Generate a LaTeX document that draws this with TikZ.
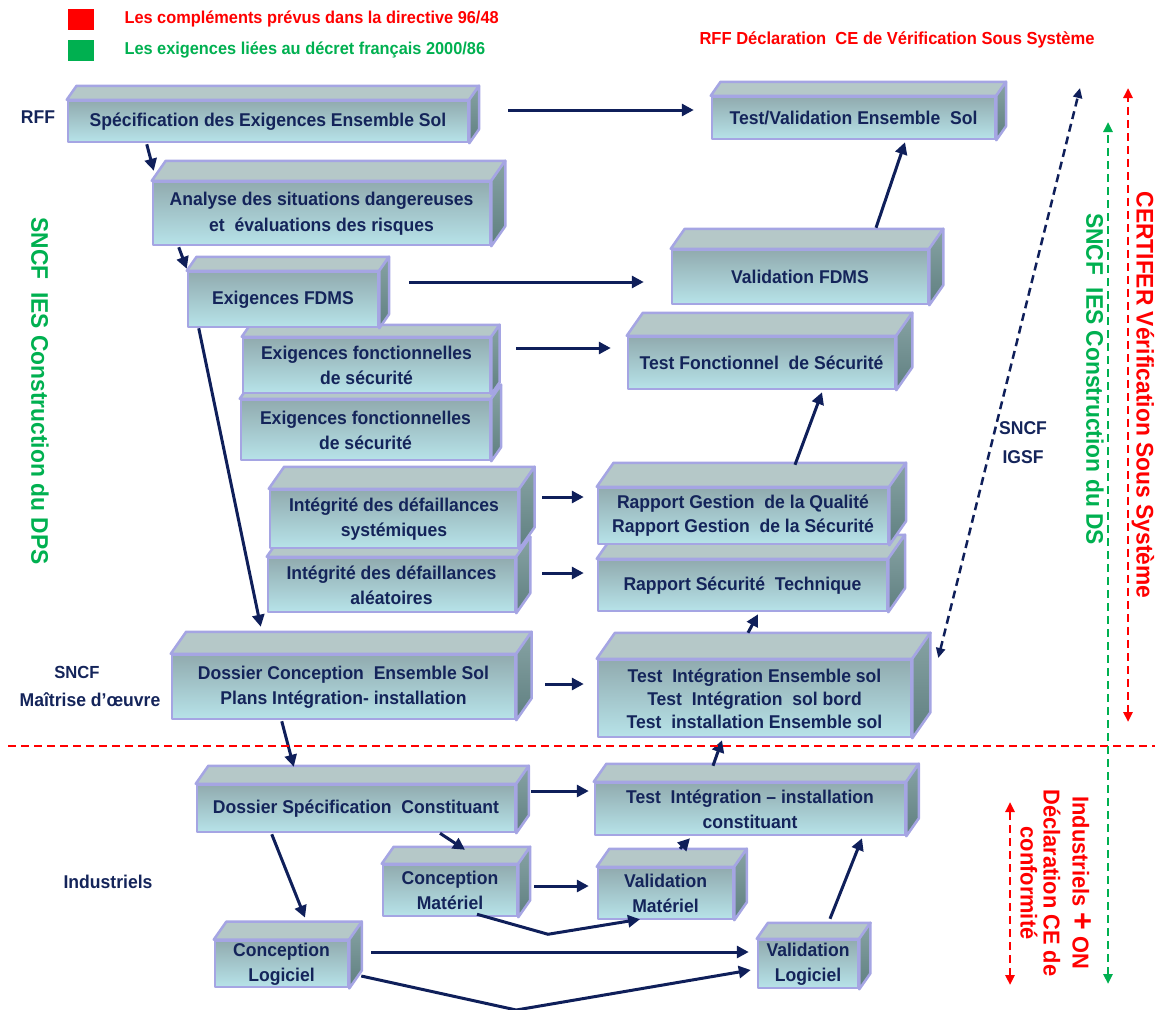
\documentclass[tikz,border=0pt]{standalone}
\usepackage{fontspec}
\setmainfont{Liberation Sans}[FakeStretch=0.95]
\usetikzlibrary{arrows.meta}
\definecolor{marine}{HTML}{14245A}
\definecolor{bleufleche}{HTML}{0F1F5A}
\definecolor{rouge}{HTML}{FF0000}
\definecolor{vert}{HTML}{00B050}
\definecolor{bord}{HTML}{A5A5E3}
\definecolor{facehaut}{HTML}{91ABAF}
\definecolor{facebas}{HTML}{B7E3E9}
\definecolor{dessusfond}{HTML}{B5C8C8}
\definecolor{cotehaut}{HTML}{87A3A4}
\definecolor{cotebas}{HTML}{5F7F80}

\tikzset{
  bloc/.style={draw=bord, line width=2.5pt, line join=round, top color=facehaut, bottom color=facebas, align=center, text=marine, inner sep=2pt},
  dessus/.style={draw=bord, line width=2.5pt, line join=round, fill=dessusfond},
  cote/.style={draw=bord, line width=2.5pt, line join=round, top color=cotehaut, bottom color=cotebas},
  fleche/.style={draw=bleufleche, line width=3pt, -{Triangle[length=12pt,width=12pt]}},
  pointille/.style={line width=2.5pt, dash pattern=on 8pt off 5pt, {Triangle[length=10pt,width=9pt]}-{Triangle[length=10pt,width=9pt]}},
  etiquette/.style={text=marine, align=center},
  vertical/.style={rotate=-90, align=center, font=\bfseries\fontsize{24}{29}\selectfont}
}

% boite en relief : [profondeur]{nom}{x}{y}{largeur}{hauteur}{texte}
\newcommand{\boite}[7][18]{%
  \node[bloc, minimum width=#5pt, minimum height=#6pt] (#2) at (#3,#4) {#7};
  \filldraw[dessus] (#2.north west) -- ++({0.7*#1pt},{#1pt}) -- ([shift={({0.7*#1pt},{#1pt})}]#2.north east) -- (#2.north east) -- cycle;
  \filldraw[cote] (#2.north east) -- ++({0.7*#1pt},{#1pt}) -- ([shift={({0.7*#1pt},{#1pt})}]#2.south east) -- (#2.south east) -- cycle;
}

\begin{document}
\begin{tikzpicture}[x=1pt, y=-1pt, font=\bfseries\fontsize{18.5}{25}\selectfont]
  \useasboundingbox (0,0) rectangle (1155,1009);

  % Légende
  \fill[rouge] (68,9) rectangle (94,30);
  \fill[vert] (68,40) rectangle (94,61);
  \node[anchor=west, text=rouge, font=\bfseries\fontsize{17.2}{20}\selectfont] (legrouge) at (121,19) {Les compléments prévus dans la directive 96/48};
  \node[anchor=west, text=vert, font=\bfseries\fontsize{17.2}{20}\selectfont] (legvert) at (121,50) {Les exigences liées au décret français 2000/86};
  \node[anchor=west, text=rouge, font=\bfseries\fontsize{17.4}{20}\selectfont] (declaration) at (696,40) {RFF Déclaration\ \ CE de Vérification Sous Système};

  % Acteurs
  \node[etiquette] (rff) at (38,117) {RFF};
  \node[etiquette, font=\bfseries\fontsize{17.5}{20}\selectfont] (sncf) at (77,672) {SNCF};
  \node[etiquette] (moe) at (90,700) {Maîtrise d’œuvre};
  \node[etiquette] (industriels) at (108,882) {Industriels};
  \node[etiquette, font=\bfseries\fontsize{18.5}{29}\selectfont] (igsf) at (1023,443) {SNCF\\IGSF};
  \node[vertical, text=vert] (dps) at (40,391) {SNCF\ \ IES Construction du DPS};
  \node[vertical, text=vert] (ds) at (1095,379) {SNCF\ \ IES Construction du DS};
  \node[vertical, text=rouge] (certifer) at (1143,395) {CERTIFER Vérification Sous Système};
  \node[vertical, text=rouge, font=\bfseries\fontsize{23}{29}\selectfont] (conformite) at (1056,883) {Industriels {\fontsize{32}{29}\selectfont+} ON\\Déclaration CE de\\[-6pt]conformité};

  % Blocs (du bas vers le haut)
  \boite[16]{vallog}{808}{964}{100}{48}{Validation\\Logiciel}
  \boite[18]{conclog}{281.5}{964}{133}{44}{Conception\\Logiciel}
  \boite[18]{valmat}{665.5}{893.5}{135}{51}{Validation\\Matériel}
  \boite[17]{concmat}{450}{890.5}{134}{51}{Conception\\Matériel}
  \boite[18]{testconst}{750}{809}{310}{52}{Test\ \ Intégration – installation\\constituant}
  \boite[18]{dossspec}{356}{808.5}{318}{47}{Dossier Spécification\ \ Constituant}
  \boite[26]{testint}{754.5}{698.5}{313}{77}{Test\ \ Intégration Ensemble sol\\[-2pt]Test\ \ Intégration\ \ sol bord\\[-2pt]Test\ \ installation Ensemble sol}
  \boite[22]{dossconc}{343.5}{687}{343}{64}{Dossier Conception\ \ Ensemble Sol\\Plans Intégration- installation}
  \boite[24]{rapsec}{742.5}{585.5}{289}{51}{Rapport Sécurité\ \ Technique}
  \boite[24]{rapgest}{743}{516}{290}{56}{Rapport Gestion\ \ de la Qualité\\[-1pt]Rapport Gestion\ \ de la Sécurité}
  \boite[20]{aleatoire}{391.5}{585}{247}{54}{Intégrité des défaillances\\aléatoires}
  \boite[22]{systemique}{394}{519}{248}{58}{Intégrité des défaillances\\systémiques}
  \boite[23]{testfonct}{761.5}{363}{267}{52}{Test Fonctionnel\ \ de Sécurité}
  \boite[14]{fonctb}{365.5}{430}{249}{60}{Exigences fonctionnelles\\de sécurité}
  \boite[12]{foncta}{366.5}{365.5}{247}{55}{Exigences fonctionnelles\\de sécurité}
  \boite[20]{valfdms}{800}{277}{256}{54}{Validation FDMS}
  \boite[14]{fdms}{283}{299.5}{190}{55}{Exigences FDMS}
  \boite[20]{analyse}{321.5}{213.5}{337}{63}{Analyse des situations dangereuses\\[1pt]et\ \ évaluations des risques}
  \boite[14]{testval}{853.5}{118}{283}{42}{Test/Validation Ensemble\ \ Sol}
  \boite[14]{spec}{268}{121.5}{400}{41}{Spécification des Exigences Ensemble Sol}

  % Flèches
  \draw[fleche] ([shift={(39pt,11.5pt)}]spec.east) -- ([shift={(-17pt,8pt)}]testval.west);
  \draw[fleche] ([shift={(80pt,-1pt)}]spec.south west) -- ([shift={(2pt,10pt)}]analyse.north west);
  \draw[fleche] ([shift={(27pt,-1pt)}]analyse.south west) -- ([shift={(0pt,2pt)}]fdms.north west);
  \draw[fleche] ([shift={(30pt,17.5pt)}]fdms.east) -- ([shift={(-27pt,-5pt)}]valfdms.west);
  \draw[fleche] ([shift={(12pt,0pt)}]fdms.south west) -- ([shift={(90pt,27pt)}]dossconc.north west);
  \draw[fleche] ([shift={(25pt,17.5pt)}]foncta.east) -- ([shift={(-16pt,15pt)}]testfonct.west);
  \draw[fleche] ([shift={(23pt,22pt)}]systemique.east) -- ([shift={(-13pt,19pt)}]rapgest.west);
  \draw[fleche] ([shift={(26pt,12pt)}]aleatoire.east) -- ([shift={(-13pt,12.5pt)}]rapsec.west);
  \draw[fleche] ([shift={(29pt,3pt)}]dossconc.east) -- ([shift={(-13pt,14.5pt)}]testint.west);
  \draw[fleche] ([shift={(111pt,-1pt)}]dossconc.south west) -- ([shift={(98pt,17pt)}]dossspec.north west);
  \draw[fleche] ([shift={(-6.5pt,26pt)}]testint.north) -- ([shift={(15.5pt,-2pt)}]rapsec.south);
  \draw[fleche] ([shift={(52pt,22pt)}]rapgest.north) -- ([shift={(60.5pt,-2pt)}]testfonct.south);
  \draw[fleche] ([shift={(76pt,21pt)}]valfdms.north) -- ([shift={(51.5pt,-2pt)}]testval.south);
  \draw[fleche] ([shift={(15pt,17.5pt)}]dossspec.east) -- ([shift={(-5pt,18pt)}]testconst.west);
  \draw[fleche] ([shift={(-37pt,16pt)}]testconst.north) -- ([shift={(-32.5pt,-2pt)}]testint.south);
  \draw[fleche] ([shift={(84pt,0pt)}]dossspec.south) -- ([shift={(15pt,14pt)}]concmat.north);
  \draw[fleche] ([shift={(76pt,-1pt)}]dossspec.south west) -- ([shift={(23.5pt,22pt)}]conclog.north);
  \draw[fleche] ([shift={(16pt,4.5pt)}]concmat.east) -- ([shift={(-8pt,7.5pt)}]valmat.west);
  \draw[fleche] ([shift={(27pt,3pt)}]concmat.south) -- ++(71,20) -- ([shift={(-25.5pt,1pt)}]valmat.south);
  \draw[fleche] ([shift={(14.5pt,18pt)}]valmat.north) -- ([shift={(-60pt,-2pt)}]testconst.south);
  \draw[fleche] ([shift={(22pt,12pt)}]conclog.east) -- ([shift={(-8pt,12pt)}]vallog.west);
  \draw[fleche] ([shift={(12pt,-12pt)}]conclog.east) -- ++(155,34) -- ([shift={(-6pt,-6pt)}]vallog.west);
  \draw[fleche] ([shift={(22pt,20pt)}]vallog.north) -- ([shift={(112pt,-2pt)}]testconst.south);

  % Limites et responsabilités
  \coordinate (igsfhaut) at (1080,88);
  \coordinate (verthaut) at (1108,122);
  \coordinate (vertbas) at (1108,984);
  \coordinate (rougehaut) at (1128,88);
  \coordinate (rougebas) at (1128,722);
  \coordinate (ceHaut) at (1010,802);
  \coordinate (ceBas) at (1010,985);
  \draw[rouge, line width=2.5pt, dash pattern=on 8pt off 5pt] (8,746) -- (1155,746);
  \draw[pointille, bleufleche] ([shift={(26pt,40.5pt)}]testint.east) -- (igsfhaut);
  \draw[pointille, vert] (vertbas) -- (verthaut);
  \draw[pointille, rouge] (rougebas) -- (rougehaut);
  \draw[pointille, rouge] (ceBas) -- (ceHaut);
\end{tikzpicture}
\end{document}
